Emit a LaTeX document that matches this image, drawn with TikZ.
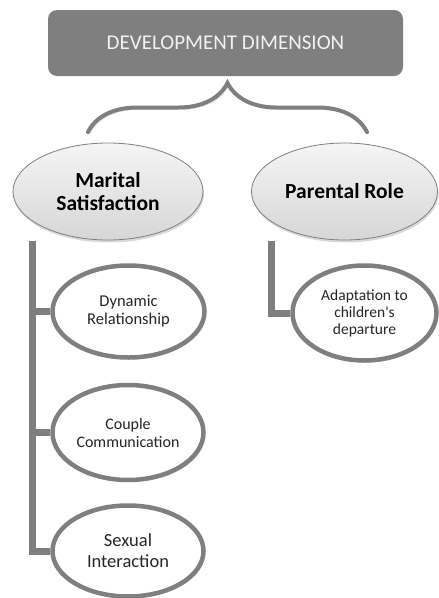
\documentclass[tikz,border=0pt]{standalone}
\usepackage{fontspec}
\setmainfont{Carlito}
\usetikzlibrary{shapes.geometric,shadows,backgrounds,decorations.pathreplacing}
\definecolor{boxgray}{HTML}{7F7F7F}
\definecolor{txtgray}{HTML}{262626}
\begin{document}
\begin{tikzpicture}[x=1pt,y=-1pt,
    topbox/.style={fill=boxgray, rounded corners=9pt, minimum width=355pt,
      minimum height=66pt, text=white!95!black, inner sep=0pt},
    bigell/.style={ellipse, draw=boxgray, line width=0.8pt, top color=gray!8,
      bottom color=gray!32, inner sep=0pt, align=center, text=black,
      font=\bfseries\fontsize{21.5}{22.5}\selectfont,
      drop shadow={opacity=0.3, shadow xshift=1pt, shadow yshift=-2.5pt}},
    smallell/.style={ellipse, draw=boxgray, line width=4.5pt, fill=white,
      inner sep=0pt, align=center, text=txtgray,
      drop shadow={opacity=0.3, shadow xshift=1.5pt, shadow yshift=-2pt}},
    bar/.style={draw=boxgray, line width=7pt,
      preaction={draw=black, opacity=0.2,
        transform canvas={shift={(1.5pt,-2pt)}}}}]
  \useasboundingbox (0,0) rectangle (439,598);
  % heading
  \node[topbox, font=\fontsize{21}{24}\selectfont] (dd) at (225.5,43)
    {DEVELOPMENT DIMENSION};
  % brace
  \coordinate (bl) at (88,132);
  \coordinate (br) at (367,132);
  \draw[bar, line width=4pt, line cap=round,
    decorate, decoration={brace, amplitude=49pt}] (bl) -- (br);
  % the two roles
  \node[bigell, minimum width=190pt, minimum height=97pt] (ms)
    at (108,191.5) {Marital\\Satisfaction};
  \node[bigell, minimum width=186pt, minimum height=97pt] (pr)
    at (344.5,191.5) {Parental Role};
  % sub items
  \node[smallell, minimum width=152pt, minimum height=92pt,
    font=\fontsize{16.5}{18}\selectfont] (dr) at (128.5,311.5)
    {Dynamic\\Relationship};
  \node[smallell, minimum width=151pt, minimum height=95pt,
    font=\fontsize{16}{18}\selectfont] (cc) at (128,432.5)
    {Couple\\Communication};
  \node[smallell, minimum width=151pt, minimum height=91pt,
    font=\fontsize{18.5}{21}\selectfont] (si) at (128,551)
    {Sexual\\Interaction};
  \node[smallell, minimum width=144pt, minimum height=95pt,
    font=\fontsize{15.5}{17}\selectfont] (ad) at (364.5,313)
    {Adaptation to\\children\textquotesingle s\\departure};
  % bars
  \coordinate (msbar) at (32,241);
  \coordinate (prbar) at (271.5,241);
  \begin{pgfonlayer}{background}
    \draw[bar] (msbar) |- (si.west);
    \draw[bar] (msbar |- dr.west) -- (dr.west);
    \draw[bar] (msbar |- cc.west) -- (cc.west);
    \draw[bar] (prbar) |- (ad.west);
  \end{pgfonlayer}
\end{tikzpicture}
\end{document}
